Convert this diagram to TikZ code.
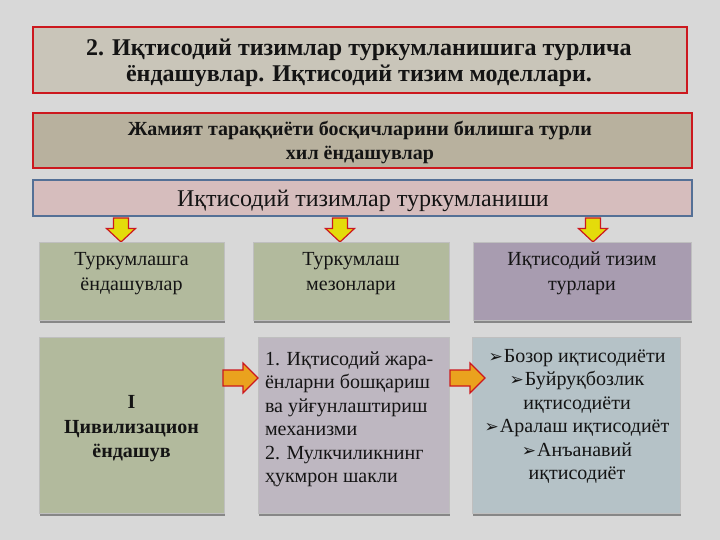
\documentclass[tikz,border=0pt]{standalone}
\usepackage{fontspec}
\setmainfont{Liberation Serif}
\newfontfamily\dejavu{DejaVu Sans}
\definecolor{bg}{RGB}{216,216,216}
\definecolor{beige}{RGB}{201,197,185}
\definecolor{tanbox}{RGB}{184,177,158}
\definecolor{pinkish}{RGB}{214,189,189}
\definecolor{steel}{RGB}{84,112,150}
\definecolor{redb}{RGB}{204,24,30}
\definecolor{sage}{RGB}{178,186,157}
\definecolor{mauve}{RGB}{168,156,176}
\definecolor{mauvelt}{RGB}{190,183,193}
\definecolor{bluegray}{RGB}{181,194,199}
\definecolor{yel}{RGB}{228,220,10}
\definecolor{orng}{RGB}{234,162,30}
\definecolor{ink}{RGB}{20,20,20}
\definecolor{shade}{RGB}{135,135,135}
\tikzset{
  box/.style={rectangle, inner sep=0pt, outer sep=0pt},
  redbox/.style={box, draw=redb, line width=2pt},
  rowbox/.style={box, draw=black!25, line width=0.4pt,
     preaction={fill=shade, transform canvas={xshift=0.5pt,yshift=-2.5pt}}},
  tl/.style={inner sep=0pt, outer sep=0pt, text=ink},
  tbold/.style={tl, font=\bfseries\fontsize{24}{26}\selectfont},
  tsub/.style={tl, font=\bfseries\fontsize{20}{24}\selectfont},
  tmid/.style={tl, font=\fontsize{24}{26}\selectfont},
  trow/.style={tl, font=\fontsize{20}{25}\selectfont},
  tbody/.style={tl, font=\fontsize{20}{23}\selectfont},
  arrY/.style={draw=redb, fill=yel, line width=1.2pt, line join=miter},
  arrO/.style={draw=redb, fill=orng, line width=1.2pt, line join=miter},
  downarr/.pic={\path[arrY] (-7.5,0) -- (7.5,0) -- (7.5,10.5) -- (14.5,10.5) -- (0,24) -- (-14.5,10.5) -- (-7.5,10.5) -- cycle;},
  rightarr/.pic={\path[arrO] (0,-8) -- (20,-8) -- (20,-15) -- (35,0) -- (20,15) -- (20,8) -- (0,8) -- cycle;}
}
\newcommand{\bul}{{\dejavu\fontsize{17}{17}\selectfont ➢}\kern1pt}
\begin{document}
\begin{tikzpicture}[x=1pt,y=-1pt]
\useasboundingbox (0,0) rectangle (720,540);
\fill[bg] (0,0) rectangle (720,540);

% title
\node[redbox, fill=beige, minimum width=654pt, minimum height=66pt] (title) at (360,60) {};
\node[tbold, anchor=base] (title1) at (359,56) {2. Иқтисодий тизимлар туркумланишига турлича};
\node[tbold, anchor=base] (title2) at (359,82) {ёндашувлар. Иқтисодий тизим моделлари.};

% subtitle
\node[redbox, fill=tanbox, minimum width=659pt, minimum height=55pt] (sub) at (362.5,140.5) {};
\node[tsub, anchor=base] (sub1) at (360,136) {Жамият тараққиёти босқичларини билишга турли};
\node[tsub, anchor=base] (sub2) at (360,160) {хил ёндашувлар};

% classification bar
\node[box, draw=steel, line width=2pt, fill=pinkish, minimum width=659pt, minimum height=36pt] (bar) at (362.5,198) {};
\node[tmid, anchor=base] (bartext) at (363,207) {Иқтисодий тизимлар туркумланиши};

% down arrows
\pic at (121,218) {downarr};
\pic at (340,218) {downarr};
\pic at (593,218) {downarr};

% row 2
\node[rowbox, fill=sage, minimum width=185pt, minimum height=78pt] (A) at (131.5,281) {};
\node[rowbox, fill=sage, minimum width=196pt, minimum height=78pt] (B) at (351,281) {};
\node[rowbox, fill=mauve, minimum width=218pt, minimum height=78pt] (C) at (582,281) {};
\node[trow, anchor=base] (A1) at (131.5,265) {Туркумлашга};
\node[trow, anchor=base] (A2) at (131.5,290) {ёндашувлар};
\node[trow, anchor=base] (B1) at (351,265) {Туркумлаш};
\node[trow, anchor=base] (B2) at (351,290) {мезонлари};
\node[trow, anchor=base] (C1) at (582,265) {Иқтисодий тизим};
\node[trow, anchor=base] (C2) at (582,290) {турлари};

% row 3
\node[rowbox, fill=sage, minimum width=185pt, minimum height=176pt] (D) at (131.5,425) {};
\node[rowbox, fill=mauvelt, minimum width=191pt, minimum height=176pt] (E) at (353.5,425) {};
\node[rowbox, fill=bluegray, minimum width=208pt, minimum height=176pt] (F) at (576,425) {};

\node[tsub, anchor=base] (D1) at (131.5,408) {I};
\node[tsub, anchor=base] (D2) at (131.5,433) {Цивилизацион};
\node[tsub, anchor=base] (D3) at (131.5,457) {ёндашув};

\node[tbody, anchor=base west] (E1) at (265,365) {1. Иқтисодий жара-};
\node[tbody, anchor=base west] (E2) at (265,388.5) {ёнларни бошқариш};
\node[tbody, anchor=base west] (E3) at (265,412) {ва уйғунлаштириш};
\node[tbody, anchor=base west] (E4) at (265,435.5) {механизми};
\node[tbody, anchor=base west] (E5) at (265,459) {2. Мулкчиликнинг};
\node[tbody, anchor=base west] (E6) at (265,482.5) {ҳукмрон шакли};

\node[tbody, anchor=base] (F1) at (577,362) {\bul Бозор иқтисодиёти};
\node[tbody, anchor=base] (F2) at (577,385.5) {\bul Буйруқбозлик};
\node[tbody, anchor=base] (F3) at (577,409) {иқтисодиёти};
\node[tbody, anchor=base] (F4) at (577,432.5) {\bul Аралаш иқтисодиёт};
\node[tbody, anchor=base] (F5) at (577,456) {\bul Анъанавий};
\node[tbody, anchor=base] (F6) at (577,479.5) {иқтисодиёт};

% right arrows
\pic at (223,378) {rightarr};
\pic at (450,378) {rightarr};
\end{tikzpicture}
\end{document}
